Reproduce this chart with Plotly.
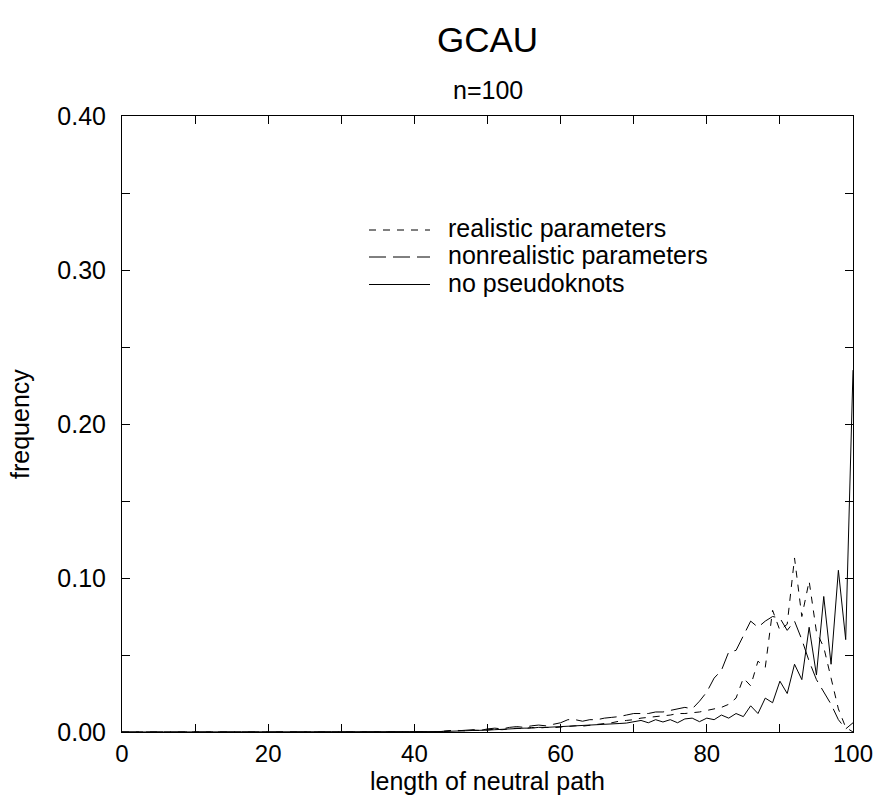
import plotly.graph_objects as go

x_len = list(range(0, 101))

# frequency values, index = length of neutral path (0..100)
realistic = [0.0] * 44 + [
    0.0005, 0.0008, 0.001, 0.0008, 0.0012, 0.001, 0.0015, 0.0018, 0.0015, 0.002,   # 44-53
    0.0025, 0.002, 0.003, 0.0025, 0.003, 0.0028, 0.0032, 0.0035, 0.004, 0.0038,     # 54-63
    0.0045, 0.005, 0.0055, 0.006, 0.007, 0.0075, 0.008, 0.009, 0.0095, 0.010,       # 64-73
    0.0105, 0.011, 0.012, 0.012, 0.0125, 0.013, 0.014, 0.015, 0.016, 0.018,         # 74-83
    0.022, 0.035, 0.030, 0.046, 0.042, 0.079, 0.066, 0.070, 0.113, 0.075,           # 84-93
    0.098, 0.065, 0.055, 0.035, 0.015, 0.003, 0.0,                                  # 94-100
]
nonrealistic = [0.0] * 44 + [
    0.0005, 0.001, 0.0008, 0.0012, 0.0015, 0.001, 0.002, 0.0025, 0.002, 0.003,      # 44-53
    0.0035, 0.003, 0.004, 0.0045, 0.004, 0.005, 0.006, 0.008, 0.008, 0.007,         # 54-63
    0.008, 0.008, 0.009, 0.0095, 0.010, 0.011, 0.012, 0.012, 0.012, 0.013,         # 64-73
    0.013, 0.014, 0.015, 0.016, 0.015, 0.020, 0.026, 0.035, 0.040, 0.052,           # 74-83
    0.053, 0.062, 0.072, 0.068, 0.072, 0.075, 0.074, 0.066, 0.072, 0.060,           # 84-93
    0.046, 0.034, 0.026, 0.018, 0.008, 0.002, 0.006,                                # 94-100
]
no_pseudoknots = [0.0] * 44 + [
    0.0003, 0.0005, 0.0005, 0.0008, 0.001, 0.001, 0.0012, 0.0015, 0.0018, 0.002,    # 44-53
    0.0022, 0.0025, 0.0025, 0.003, 0.003, 0.0032, 0.0035, 0.0037, 0.004, 0.0042,    # 54-63
    0.0045, 0.0048, 0.005, 0.0052, 0.0055, 0.0058, 0.0065, 0.0075, 0.006, 0.008,    # 64-73
    0.0065, 0.008, 0.006, 0.0085, 0.009, 0.0067, 0.009, 0.008, 0.011, 0.009,        # 74-83
    0.012, 0.010, 0.017, 0.012, 0.022, 0.019, 0.033, 0.025, 0.044, 0.034,           # 84-93
    0.068, 0.037, 0.088, 0.044, 0.105, 0.060, 0.235,                                # 94-100
]

series_names = ["realistic parameters", "nonrealistic parameters", "no pseudoknots"]
series_values = [realistic, nonrealistic, no_pseudoknots]
series_dash = ["7px,7px", "17px,7px", "solid"]

FONT = "Liberation Sans, Arial, Helvetica, sans-serif"
W, H = 877, 802
L, R, T, B = 122, 24, 116, 70
PW, PH = W - L - R, H - T - B


def px_x(px):
    return (px - L) / PW


def px_y(py):
    return 1 - (py - T) / PH


fig = go.Figure()
for name, vals, dash in zip(series_names, series_values, series_dash):
    fig.add_trace(go.Scatter(
        x=x_len, y=vals, mode="lines", name=name, showlegend=False,
        line=dict(color="black", width=1, dash=dash),
    ))

axis_common = dict(
    showline=True, linecolor="black", linewidth=1, mirror="ticks",
    ticks="inside", ticklen=8, tickcolor="black", tickwidth=1,
    showgrid=False, zeroline=False, automargin=False,
)

fig.update_xaxes(
    range=[0, 100], tick0=0, dtick=20,
    minor=dict(dtick=10, ticks="inside", ticklen=8, tickcolor="black", showgrid=False),
    tickfont=dict(family=FONT, size=24, color="black"),
    **axis_common,
)
fig.update_yaxes(
    range=[0, 0.40], tick0=0, dtick=0.10, tickformat=".2f",
    minor=dict(dtick=0.05, ticks="inside", ticklen=8, tickcolor="black", showgrid=False),
    ticklabelstandoff=10,
    tickfont=dict(family=FONT, size=25, color="black"),
    **axis_common,
)

annotations = [
    dict(text="n=100", x=0.5, y=px_y(90), xanchor="center", yanchor="middle"),
    dict(text="length of neutral path", x=0.5, y=px_y(781), xanchor="center", yanchor="middle"),
    dict(text="frequency", x=px_x(20), y=0.5, xanchor="center", yanchor="middle", textangle=-90),
]
shapes = []
legend_rows = [230, 257, 284.5]
for name, dash, ry in zip(series_names, series_dash, legend_rows):
    shapes.append(dict(type="line", xref="paper", yref="paper",
                       x0=px_x(369), x1=px_x(430), y0=px_y(ry), y1=px_y(ry),
                       line=dict(color="black", width=1, dash=dash)))
    annotations.append(dict(text=name, x=px_x(446), y=px_y(ry - 2), xanchor="left", yanchor="middle"))

for a in annotations:
    a.update(xref="paper", yref="paper", showarrow=False,
             font=dict(family=FONT, size=25, color="black"))

fig.update_layout(
    width=W, height=H,
    margin=dict(l=L, r=R, t=T, b=B),
    paper_bgcolor="white", plot_bgcolor="white",
    title=dict(text="GCAU", x=(L + W - R) / 2 / W, xanchor="center",
               y=1 - 40 / H, yanchor="middle",
               font=dict(family=FONT, size=35, color="black")),
    annotations=annotations,
    shapes=shapes,
    showlegend=False,
)

fig.write_html("out.html")
